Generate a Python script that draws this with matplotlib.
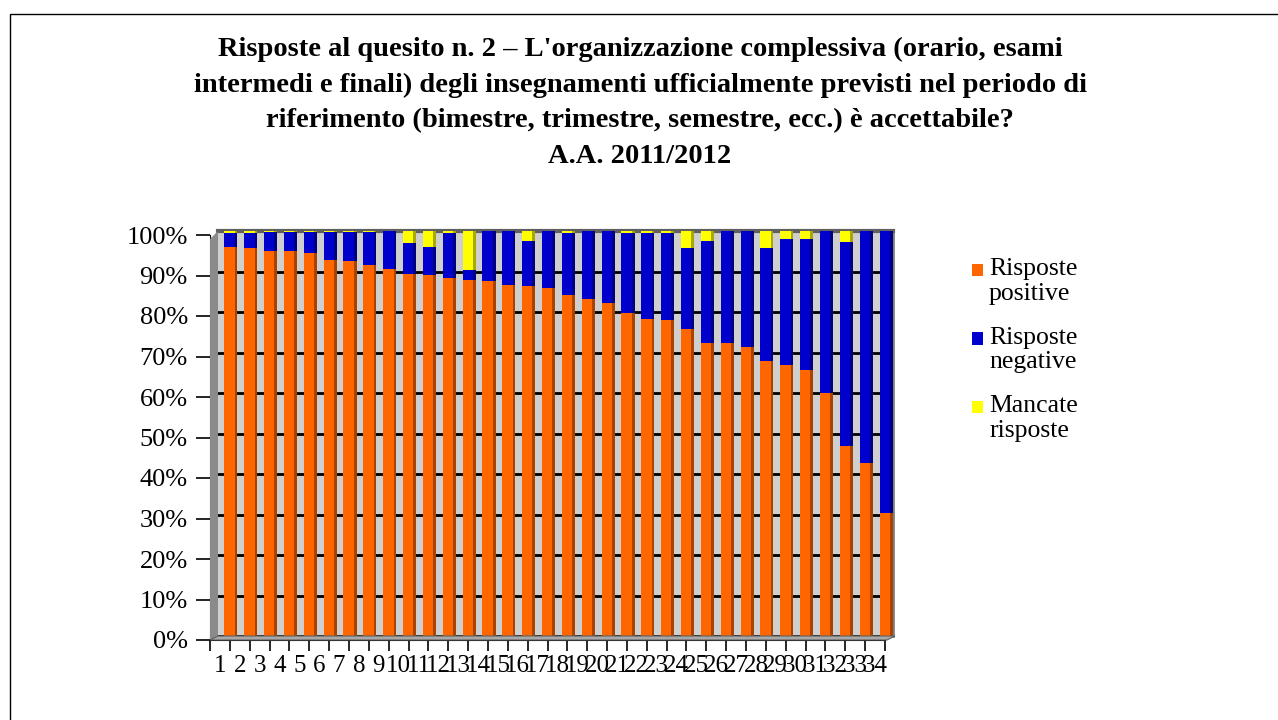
import matplotlib
matplotlib.use("Agg")
import matplotlib.pyplot as plt
from matplotlib.patches import Polygon, Rectangle
import numpy as np

plt.rcParams['font.family'] = ['Liberation Serif', 'DejaVu Serif']

# Percentuali per insegnamento (1..34)
insegnamenti = [str(i) for i in range(1, 35)]
positive = [96.1, 95.9, 95.1, 95.0, 94.5, 92.8, 92.6, 91.6, 90.6, 89.3,
            89.1, 88.3, 87.9, 87.7, 86.7, 86.4, 85.9, 84.2, 83.2, 82.1,
            79.8, 78.2, 78.0, 75.8, 72.4, 72.4, 71.4, 67.8, 67.0, 65.8,
            60.1, 47.0, 42.6, 30.4]
negative = [3.4, 3.6, 4.6, 4.7, 5.2, 6.9, 7.1, 8.1, 9.4, 7.8,
            7.0, 11.2, 2.5, 12.3, 13.3, 11.2, 14.1, 15.3, 16.8, 17.9,
            19.7, 21.3, 21.5, 20.1, 25.2, 27.6, 28.6, 28.1, 31.1, 32.3,
            39.9, 50.3, 57.4, 69.6]
mancate = [0.5, 0.5, 0.3, 0.3, 0.3, 0.3, 0.3, 0.3, 0.0, 2.9,
           3.9, 0.5, 9.6, 0.0, 0.0, 2.4, 0.0, 0.5, 0.0, 0.0,
           0.5, 0.5, 0.5, 4.1, 2.4, 0.0, 0.0, 4.1, 1.9, 1.9,
           0.0, 2.7, 0.0, 0.0]
serie = ["Risposte\npositive", "Risposte\nnegative", "Mancate\nrisposte"]
colori = ["#FF6600", "#0000CC", "#FFFF00"]
ombre = ["#A84300", "#000080", "#A8A800"]
yticks = list(range(0, 101, 10))

W, H = 1278, 720
fig = plt.figure(figsize=(W / 100, H / 100), dpi=100)


def fx(x, y):
    return (x / W, 1 - y / H)


# cornice esterna (prosegue oltre il bordo destro e inferiore)
fig.patches.append(Rectangle(fx(10, 730), (1300 - 10) / W, (730 - 14) / H,
                             transform=fig.transFigure, fill=False,
                             edgecolor="black", lw=1, clip_on=False))

titolo = ("Risposte al quesito n. 2 \u2013 L'organizzazione complessiva (orario, esami\n"
          "intermedi e finali) degli insegnamenti ufficialmente previsti nel periodo di\n"
          "riferimento (bimestre, trimestre, semestre, ecc.) \u00e8 accettabile?\n"
          "A.A. 2011/2012")
fig.text(640 / W, 1 - 37 / H, titolo, ha="center", va="top", fontsize=20.5,
         fontweight="bold", linespacing=1.55)

# parete di fondo con griglia e barre
left, top, right, bottom = 218, 231, 893, 636
ax = fig.add_axes([left / W, 1 - bottom / H, (right - left) / W, (bottom - top) / H])
ax.set_facecolor("#CFCFCF")
x = np.arange(len(insegnamenti))
ax.set_xlim(-0.5, len(insegnamenti) - 0.5)
ax.set_ylim(0, 100)
ax.set_yticks(yticks)
ax.yaxis.grid(True, color="black", lw=2)
ax.set_axisbelow(True)
ax.tick_params(left=False, bottom=False, labelleft=False, labelbottom=False)
for s in ax.spines.values():
    s.set_visible(False)
ax.spines["top"].set_visible(True)
ax.spines["top"].set_color("#606060")
ax.spines["top"].set_linewidth(3)
ax.spines["right"].set_visible(True)
ax.spines["right"].set_color("#808080")
ax.spines["right"].set_linewidth(2)

base = np.zeros(len(insegnamenti))
bw, sw = 0.52, 0.14
for vals, c, d in zip([positive, negative, mancate], colori, ombre):
    v = np.array(vals)
    ax.bar(x + 0.08, v, bw, bottom=base, color=c, lw=0, zorder=3)
    ax.bar(x + 0.08 + bw / 2 + sw / 2, v, sw, bottom=base, color=d, lw=0, zorder=3)
    base = base + v

# pareti laterali e pavimento in prospettiva
fig.patches.append(Polygon([fx(210, 239), fx(218, 231), fx(218, 636), fx(210, 640)],
                           closed=True, transform=fig.transFigure,
                           facecolor="#8A8A8A", edgecolor="none"))
fig.patches.append(Polygon([fx(210, 640), fx(218, 636), fx(895, 636), fx(887, 640)],
                           closed=True, transform=fig.transFigure,
                           facecolor="#A8A8A8", edgecolor="#606060", lw=0.8))

# assi frontali con etichette
fr = fig.add_axes([210 / W, 1 - 640 / H, (right - left) / W, (bottom - top) / H])
fr.patch.set_visible(False)
fr.set_xlim(-0.5, len(insegnamenti) - 0.5)
fr.set_ylim(0, 100)
fr.set_yticks(yticks)
fr.set_yticklabels([f"{t}%" for t in yticks], fontsize=19)
fr.set_xticks(x)
fr.set_xticklabels(insegnamenti, fontsize=18)
fr.set_xticks(np.arange(-0.5, len(insegnamenti)), minor=True)
fr.tick_params(axis="x", which="major", length=0, pad=11)
fr.tick_params(axis="x", which="minor", length=8, width=1.2, direction="out")
fr.tick_params(axis="y", length=10, width=1.2, direction="out", pad=6)
for s in ["top", "right"]:
    fr.spines[s].set_visible(False)
fr.spines["left"].set_color("black")
fr.spines["bottom"].set_color("black")

# legenda: quadratino allineato alla prima riga di ogni voce
for i, (lab, c) in enumerate(zip(serie, colori)):
    yy = 270 + i * 68.5
    fig.patches.append(Rectangle(fx(972, yy + 6), 11 / W, 12 / H,
                                 transform=fig.transFigure, facecolor=c,
                                 edgecolor="none"))
    fig.text(989 / W, 1 - (yy - 12) / H, lab, ha="left", va="top",
             fontsize=18.5, linespacing=1.15)

fig.savefig("out.png", dpi=100)
